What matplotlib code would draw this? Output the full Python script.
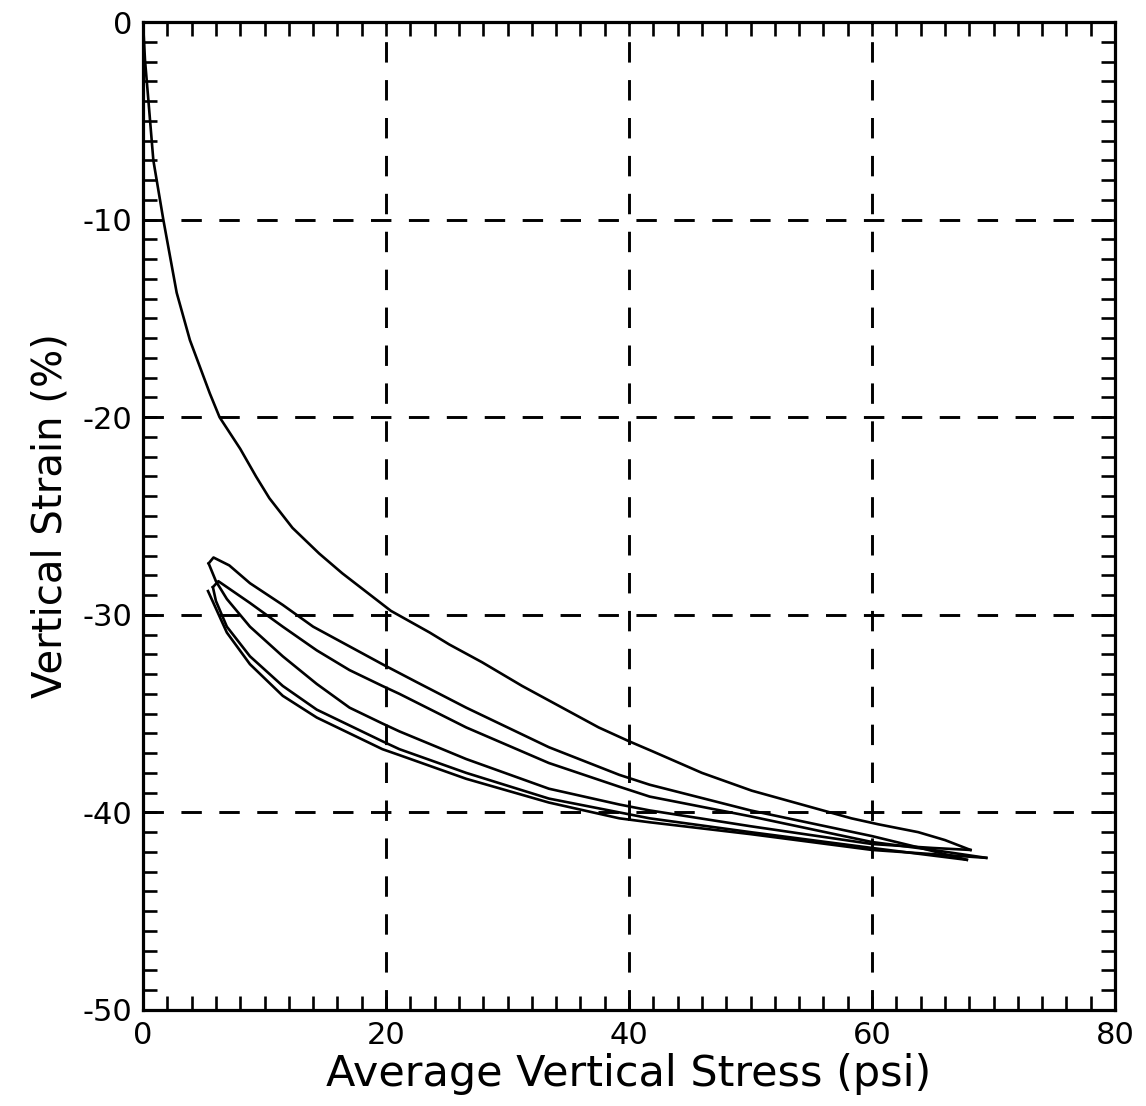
import matplotlib
matplotlib.use("Agg")
import matplotlib.pyplot as plt
from matplotlib.ticker import MultipleLocator

# first loading curve (stress psi, strain %)
load1_stress = [0, 0.16, 0.44, 0.85, 1.67, 2.77, 3.86, 5.5, 6.3, 8.0, 9.3, 10.4,
                12.3, 14.5, 16.4, 20.4, 23.6, 25.2, 27.9, 31.2, 34.8, 37.5, 40.0,
                41.9, 46.0, 50.1, 54.2, 58.3, 60.5, 63.8, 66.0, 68.1]
load1_strain = [0, -1.9, -3.95, -7.0, -10.0, -13.7, -16.1, -18.8, -20.0, -21.6,
                -23.0, -24.1, -25.6, -26.9, -27.9, -29.8, -30.9, -31.5, -32.4,
                -33.6, -34.8, -35.7, -36.4, -36.9, -38.0, -38.9, -39.6, -40.3,
                -40.6, -41.0, -41.4, -41.9]

unload1_stress = [68.1, 65.0, 60.0, 50.0, 41.7, 39.2, 33.4, 26.6, 21.1, 19.7,
                  17.0, 14.3, 11.5, 8.8, 6.9, 6.0, 5.4]
unload1_strain = [-41.9, -41.8, -41.6, -40.7, -39.9, -39.6, -38.8, -37.3, -35.9,
                  -35.5, -34.7, -33.5, -32.1, -30.6, -29.2, -28.3, -27.4]

reload1_stress = [5.4, 5.8, 7.1, 8.8, 11.5, 14.0, 17.0, 19.7, 22.5, 26.6, 33.4,
                  39.2, 41.7, 50.0, 60.0, 64.0, 67.8]
reload1_strain = [-27.4, -27.1, -27.5, -28.4, -29.5, -30.6, -31.6, -32.5, -33.4,
                  -34.7, -36.7, -38.1, -38.6, -39.9, -41.2, -41.8, -42.4]

unload2_stress = [67.8, 60.0, 50.0, 41.7, 39.2, 33.4, 26.6, 21.1, 19.7, 17.0,
                  14.3, 11.5, 8.8, 6.9, 6.0, 5.75]
unload2_strain = [-42.4, -41.8, -41.0, -40.3, -40.0, -39.3, -38.0, -36.8, -36.4,
                  -35.6, -34.8, -33.6, -32.1, -30.6, -29.3, -28.6]

reload2_stress = [5.75, 6.2, 8.8, 11.5, 14.3, 17.0, 19.7, 21.1, 26.6, 33.4, 39.2,
                  41.7, 50.0, 60.0, 65.0, 69.4]
reload2_strain = [-28.6, -28.3, -29.4, -30.6, -31.8, -32.8, -33.6, -34.0, -35.7,
                  -37.5, -38.7, -39.2, -40.2, -41.5, -41.9, -42.3]

unload3_stress = [69.4, 60.0, 50.0, 41.7, 39.2, 33.4, 26.6, 21.1, 19.7, 17.0,
                  14.3, 11.5, 8.8, 6.9, 5.35]
unload3_strain = [-42.3, -41.9, -41.1, -40.5, -40.3, -39.5, -38.3, -37.1, -36.8,
                  -36.0, -35.2, -34.1, -32.5, -30.9, -28.8]

x_ticks = [0, 20, 40, 60, 80]
y_ticks = [0, -10, -20, -30, -40, -50]

plt.rcParams["font.family"] = ["DejaVu Sans"]
plt.rcParams["axes.unicode_minus"] = False

fig = plt.figure(figsize=(11.46, 11.06), dpi=100)
ax = fig.add_axes([0.1248, 0.0868, 0.8482, 0.8933])

curves = [(load1_stress, load1_strain), (unload1_stress, unload1_strain),
          (reload1_stress, reload1_strain), (unload2_stress, unload2_strain),
          (reload2_stress, reload2_strain), (unload3_stress, unload3_strain)]
for xs, ys in curves:
    ax.plot(xs, ys, color="black", lw=1.9, solid_joinstyle="round", zorder=3)

# dashed grid
dash = (0, (7, 6))
for gx in x_ticks[1:-1]:
    ax.axvline(gx, color="black", lw=2.1, ls=dash, zorder=2)
for gy in y_ticks[1:-1]:
    ax.axhline(gy, color="black", lw=2.1, ls=dash, zorder=2)

ax.set_xlim(0, 80)
ax.set_ylim(-50, 0)
ax.set_xticks(x_ticks)
ax.set_yticks(y_ticks)
ax.xaxis.set_minor_locator(MultipleLocator(2))
ax.yaxis.set_minor_locator(MultipleLocator(1))
ax.tick_params(which="both", direction="in", top=True, right=True,
               length=10, width=1.9, color="black")
ax.tick_params(which="major", labelsize=22, pad=8)
for sp in ax.spines.values():
    sp.set_linewidth(2.3)

ax.set_xlabel("Average Vertical Stress (psi)", fontsize=31, labelpad=2)
ax.set_ylabel("Vertical Strain (%)", fontsize=29, labelpad=8)

fig.savefig("out.png", dpi=100)
